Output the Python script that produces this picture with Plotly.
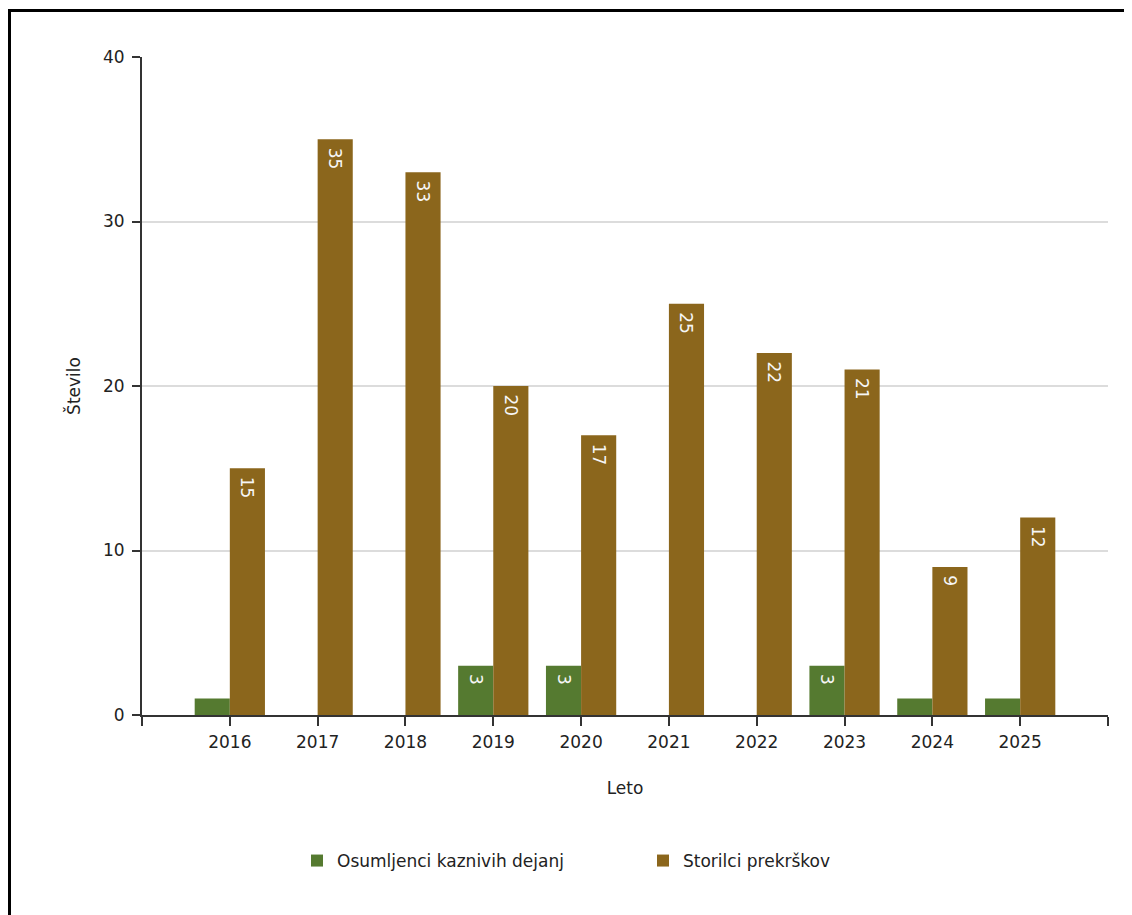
import plotly.graph_objects as go

years = [2016, 2017, 2018, 2019, 2020, 2021, 2022, 2023, 2024, 2025]
osumljenci = [1, 0, 0, 3, 3, 0, 0, 3, 1, 1]
storilci = [15, 35, 33, 20, 17, 25, 22, 21, 9, 12]
y_ticks = [0, 10, 20, 30, 40]

GREEN = "#557a30"
BROWN = "#8b661c"
FONT = "DejaVu Sans"
TXT = "#222222"

def labels(vals):
    return ["\u00a0" + str(v) if v >= 2 else "" for v in vals]

fig = go.Figure()
for name, vals, col in [("Osumljenci kaznivih dejanj", osumljenci, GREEN),
                        ("Storilci prekrškov", storilci, BROWN)]:
    fig.add_trace(go.Bar(
        x=years, y=vals, name=name,
        marker=dict(color=col, line=dict(width=0)),
        text=labels(vals), textposition="inside", insidetextanchor="end",
        textangle=90, textfont=dict(color="#f6f6f6", size=17, family=FONT),
        cliponaxis=False,
    ))

# the page has an 8px body margin; figure coords = screen - 8
OFF = 8
W, H = 1124, 907
L, T = 142 - OFF, 57 - OFF
PR, PB = 1108 - OFF, 715 - OFF
R, B = W - PR, H - PB
pw, ph = PR - L, PB - T

def px_x(p):
    return (p - OFF - L) / pw

def px_y(p):
    return (PB - (p - OFF)) / ph

fig.add_shape(type="rect", xref="paper", yref="paper",
              x0=px_x(9.5), x1=px_x(1160), y0=px_y(10.5), y1=px_y(940),
              line=dict(color="black", width=3), fillcolor="rgba(0,0,0,0)", layer="above")

tickvals = list(range(years[0] - 1, years[-1] + 2))
ticktext = [str(v) if v in years else "" for v in tickvals]

fig.update_layout(
    width=W, height=H,
    margin=dict(l=L, r=R, t=T, b=B),
    paper_bgcolor="white", plot_bgcolor="white",
    barmode="group", bargap=0.2, bargroupgap=0,
    font=dict(family=FONT, size=16, color=TXT),
    showlegend=True,
    legend=dict(orientation="h", x=px_x(297), xanchor="left", y=px_y(861), yanchor="middle",
                font=dict(size=17, family=FONT, color=TXT),
                entrywidth=301, entrywidthmode="pixels",
                traceorder="normal"),
    xaxis=dict(
        range=[years[0] - 1, years[-1] + 1],
        tickmode="array", tickvals=tickvals, ticktext=ticktext,
        ticks="outside", ticklen=9, tickwidth=2, tickcolor="#333333",
        showline=True, linecolor="#333333", linewidth=2,
        showgrid=False, zeroline=False, ticklabelstandoff=2,
        tickfont=dict(size=17, family=FONT, color=TXT),
        title=dict(text="Leto", font=dict(size=17, family=FONT, color=TXT), standoff=31),
    ),
    yaxis=dict(
        range=[0, 40], tickmode="array", tickvals=y_ticks,
        ticks="outside", ticklen=8, tickwidth=2, tickcolor="#333333",
        showline=True, linecolor="#333333", linewidth=2,
        showgrid=True, gridcolor="#dcdcdc", gridwidth=1.5, zeroline=False,
        ticklabelstandoff=4,
        tickfont=dict(size=17, family=FONT, color=TXT),
        title=dict(text="Število", font=dict(size=17, family=FONT, color=TXT), standoff=18),
    ),
)

fig.write_html("out.html")
